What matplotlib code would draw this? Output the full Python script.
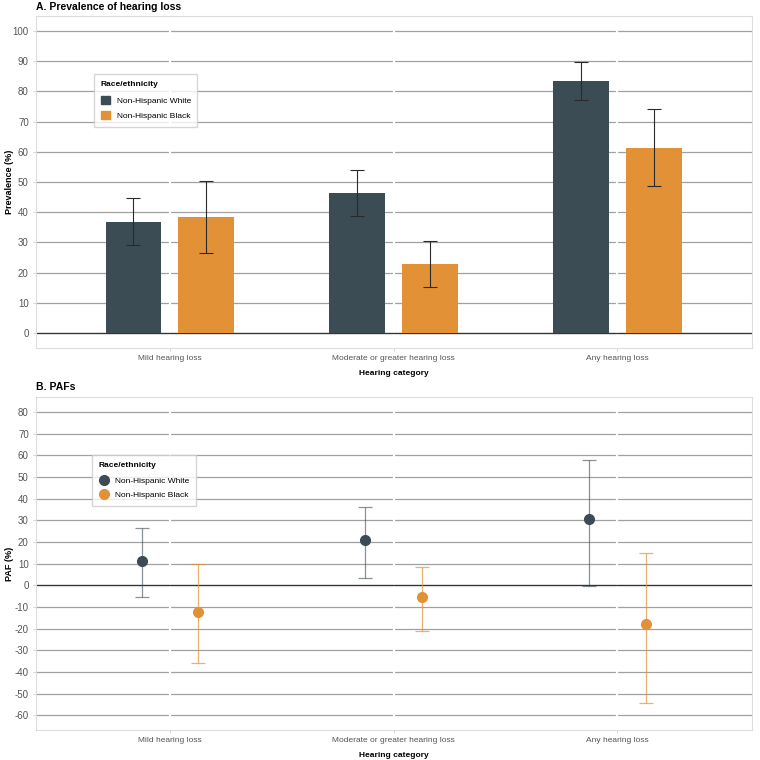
import matplotlib
matplotlib.use("Agg")
import matplotlib.pyplot as plt
import numpy as np
from matplotlib.lines import Line2D
from matplotlib.patches import Patch

plt.rcParams['font.family'] = ['Liberation Sans', 'DejaVu Sans']

categories = ["Mild hearing loss", "Moderate or greater hearing loss", "Any hearing loss"]
groups = ["Non-Hispanic White", "Non-Hispanic Black"]
colors = ["#3B4C54", "#E39137"]

# panel A: prevalence (%) with 95% CI
prev_white = [36.8, 46.4, 83.3]
prev_white_lo = [29.2, 38.7, 77.0]
prev_white_hi = [44.7, 54.1, 89.7]
prev_black = [38.3, 22.9, 61.3]
prev_black_lo = [26.5, 15.3, 48.8]
prev_black_hi = [50.3, 30.6, 74.1]

# panel B: PAFs (%) with 95% CI
paf_white = [11.0, 20.7, 30.6]
paf_white_lo = [-5.2, 3.5, -0.5]
paf_white_hi = [26.6, 36.2, 58.0]
paf_black = [-12.3, -5.4, -18.0]
paf_black_lo = [-35.7, -21.0, -54.2]
paf_black_hi = [9.9, 8.3, 15.0]

fig = plt.figure(figsize=(7.6, 7.6), dpi=100)
axA = fig.add_axes([0.047, 0.542, 0.942, 0.437])
axB = fig.add_axes([0.047, 0.0395, 0.942, 0.438])

x = np.arange(len(categories))


def style_axis(ax, yticks, ylim, ylabel):
    ax.set_xlim(-0.6, 2.6)
    ax.set_ylim(*ylim)
    ax.set_yticks(yticks)
    ax.set_yticklabels([str(t) for t in yticks])
    for t in yticks:
        ax.axhline(t, color="#a0a0a0", lw=0.9, zorder=0)
    for xi in x:
        ax.axvline(xi, color="white", lw=1.6, zorder=0.5)
    ax.axhline(0, color="#333333", lw=0.9, zorder=1)
    ax.set_xticks(x)
    ax.set_xticklabels(categories)
    ax.tick_params(axis="both", colors="#cccccc", labelcolor="#555555",
                   length=2, width=0.6, pad=3)
    ax.tick_params(axis="x", labelsize=6)
    ax.tick_params(axis="y", labelsize=7)
    for s in ax.spines.values():
        s.set_color("#dddddd")
        s.set_linewidth(0.8)
    ax.set_xlabel("Hearing category", fontsize=6, fontweight="bold", labelpad=6)
    ax.set_ylabel(ylabel, fontsize=6.5, fontweight="bold")
    ax.yaxis.set_label_coords(-0.031, 0.5)


def make_legend(ax, handles, anchor, **kw):
    leg = ax.legend(handles=handles, title="Race/ethnicity", loc="upper left",
                    bbox_to_anchor=anchor, fontsize=6, title_fontsize=6,
                    frameon=True, fancybox=False, edgecolor="#cccccc",
                    borderpad=0.8, labelspacing=0.75, handletextpad=0.8,
                    borderaxespad=0, **kw)
    leg.get_title().set_fontweight("bold")
    leg._legend_box.align = "left"
    leg._legend_box.sep = 6
    return leg


# ---- Panel A
style_axis(axA, list(range(0, 101, 10)), (-5, 105), "Prevalence (%)")
bw = 0.25
off = 0.163
axA.bar(x - off, prev_white, width=bw, color=colors[0], zorder=2)
axA.bar(x + off, prev_black, width=bw, color=colors[1], zorder=2)
axA.errorbar(x - off, prev_white,
             yerr=[np.array(prev_white) - np.array(prev_white_lo),
                   np.array(prev_white_hi) - np.array(prev_white)],
             fmt="none", ecolor="#2a2a2a", elinewidth=0.8, capsize=5, capthick=0.8, zorder=3)
axA.errorbar(x + off, prev_black,
             yerr=[np.array(prev_black) - np.array(prev_black_lo),
                   np.array(prev_black_hi) - np.array(prev_black)],
             fmt="none", ecolor="#2a2a2a", elinewidth=0.8, capsize=5, capthick=0.8, zorder=3)
fig.text(0.047, 0.984, "A. Prevalence of hearing loss", fontsize=7.5, fontweight="bold", va="bottom")
make_legend(axA, [Patch(color=colors[0], label=groups[0]),
                  Patch(color=colors[1], label=groups[1])],
            (0.0815, 0.825), handlelength=1.1, handleheight=1.1)

# ---- Panel B
style_axis(axB, list(range(-60, 81, 10)), (-66.8, 86.9), "PAF (%)")
poff = 0.127
axB.errorbar(x - poff, paf_white,
             yerr=[np.array(paf_white) - np.array(paf_white_lo),
                   np.array(paf_white_hi) - np.array(paf_white)],
             fmt="none", ecolor=colors[0], alpha=0.6, elinewidth=0.9, capsize=5, capthick=0.9, zorder=3)
axB.errorbar(x + poff, paf_black,
             yerr=[np.array(paf_black) - np.array(paf_black_lo),
                   np.array(paf_black_hi) - np.array(paf_black)],
             fmt="none", ecolor=colors[1], alpha=0.7, elinewidth=0.9, capsize=5, capthick=0.9, zorder=3)
axB.plot(x - poff, paf_white, "o", color=colors[0], ms=7, zorder=4)
axB.plot(x + poff, paf_black, "o", color=colors[1], ms=7, zorder=4)
fig.text(0.047, 0.484, "B. PAFs", fontsize=7.5, fontweight="bold", va="bottom")
make_legend(axB, [Line2D([], [], marker="o", color=colors[0], ms=7, lw=0.8, label=groups[0]),
                  Line2D([], [], marker="o", color=colors[1], ms=7, lw=0.8, label=groups[1])],
            (0.0785, 0.825), handlelength=1.2)

fig.savefig("out.png", dpi=100)
